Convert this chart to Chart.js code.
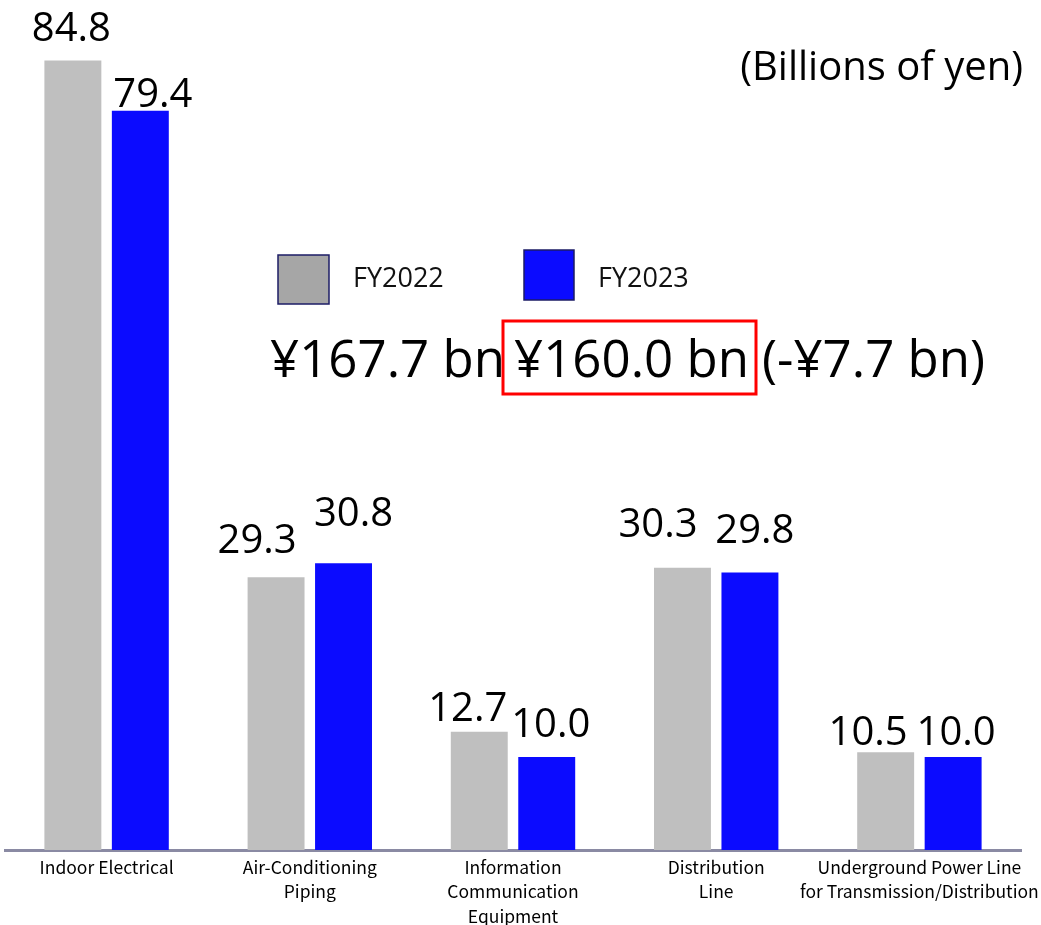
<!DOCTYPE html>
<html>
<head>
<meta charset="utf-8">
<script src="https://cdn.jsdelivr.net/npm/chart.js@4.4.1/dist/chart.umd.min.js"></script>
<style>
  html, body { margin: 0; padding: 0; background: #fff; }
  #wrap { position: relative; width: 1041px; height: 925px; }
</style>
</head>
<body>
<div id="wrap"><canvas id="salesChart" width="1041" height="925"></canvas></div>
<script>
const categories = [
  ["Indoor Electrical"],
  ["Air-Conditioning", "Piping"],
  ["Information", "Communication", "Equipment"],
  ["Distribution", "Line"],
  ["Underground Power Line", "for Transmission/Distribution"],
];
const seriesNames = ["FY2022", "FY2023"];
const fy2022 = [84.8, 29.3, 12.7, 30.3, 10.5];
const fy2023 = [79.4, 30.8, 10.0, 29.8, 10.0];
const totals = ["¥167.7 bn", "¥160.0 bn", "(-¥7.7 bn)"];
const unitText = "(Billions of yen)";

const GRAY = "#bfbfbf";
const BLUE = "#0b0bff";

// hand-placed value labels: shift from the bar's top centre
const labelShift = [
  { dx: [-1.5, -19, -11.5, -24.5, -17.5], dy: [-19, -24, -11, -31, -7] },
  { dx: [12.5, 10, 4, 5, 3], dy: [-4, -37, -20, -30, -12] },
];

const annotations = {
  id: "annotations",
  afterDatasetsDraw(chart) {
    const ctx = chart.ctx;
    ctx.save();
    ctx.fillStyle = "#000";
    ctx.textBaseline = "alphabetic";
    ctx.textAlign = "center";
    ctx.font = '40px "Open Sans"';
    chart.data.datasets.forEach((ds, i) => {
      chart.getDatasetMeta(i).data.forEach((bar, j) => {
        const s = labelShift[i];
        ctx.fillText(ds.data[j].toFixed(1), bar.x + s.dx[j], bar.y + s.dy[j]);
      });
    });

    // unit note
    ctx.textAlign = "right";
    ctx.font = '40px "Open Sans"';
    ctx.fillText(unitText, 1023, 80);

    // legend
    const legendItems = [
      { x: 278, y: 255, w: 51, h: 49, fill: "#a6a6a6", tx: 353, ty: 287 },
      { x: 524, y: 250, w: 50, h: 50, fill: BLUE, tx: 598, ty: 287 },
    ];
    ctx.textAlign = "left";
    ctx.font = '27px "Open Sans"';
    legendItems.forEach((it, i) => {
      ctx.fillStyle = it.fill;
      ctx.fillRect(it.x, it.y, it.w, it.h);
      ctx.strokeStyle = "#1c1c66";
      ctx.lineWidth = 1.5;
      ctx.strokeRect(it.x, it.y, it.w, it.h);
      ctx.fillStyle = "#111";
      ctx.fillText(seriesNames[i], it.tx, it.ty);
    });

    // totals line with the current year boxed
    ctx.fillStyle = "#000";
    ctx.font = '51px "Open Sans"';
    ctx.fillText(totals[0], 270, 377);
    ctx.fillText(totals[1], 514, 377);
    ctx.fillText(totals[2], 762, 377);
    ctx.strokeStyle = "#ff0000";
    ctx.lineWidth = 3;
    ctx.strokeRect(503, 321, 253, 73);
    ctx.restore();
  },
};

new Chart(document.getElementById("salesChart"), {
  type: "bar",
  data: {
    labels: categories,
    datasets: [
      { label: seriesNames[0], data: fy2022, backgroundColor: GRAY },
      { label: seriesNames[1], data: fy2023, backgroundColor: BLUE },
    ],
  },
  options: {
    responsive: false,
    animation: false,
    categoryPercentage: 0.664,
    barPercentage: 0.844,
    layout: { padding: { left: 5, right: 20, top: 12, bottom: 0 } },
    plugins: {
      legend: { display: false },
      tooltip: { enabled: false },
    },
    scales: {
      x: {
        grid: { display: false, drawTicks: false },
        border: { display: true, color: "#8a8aa3", width: 3 },
        ticks: {
          color: "#000",
          padding: 5,
          maxRotation: 0,
          autoSkip: false,
          font: { family: '"Noto Sans CJK JP"', size: 17.5, lineHeight: 1.4 },
        },
        afterFit(scale) {
          scale.height = 75;
          scale.paddingLeft = 0;
          scale.paddingRight = 0;
        },
      },
      y: {
        display: false,
        min: 0,
        max: 90,
      },
    },
  },
  plugins: [annotations],
});
</script>
</body>
</html>
